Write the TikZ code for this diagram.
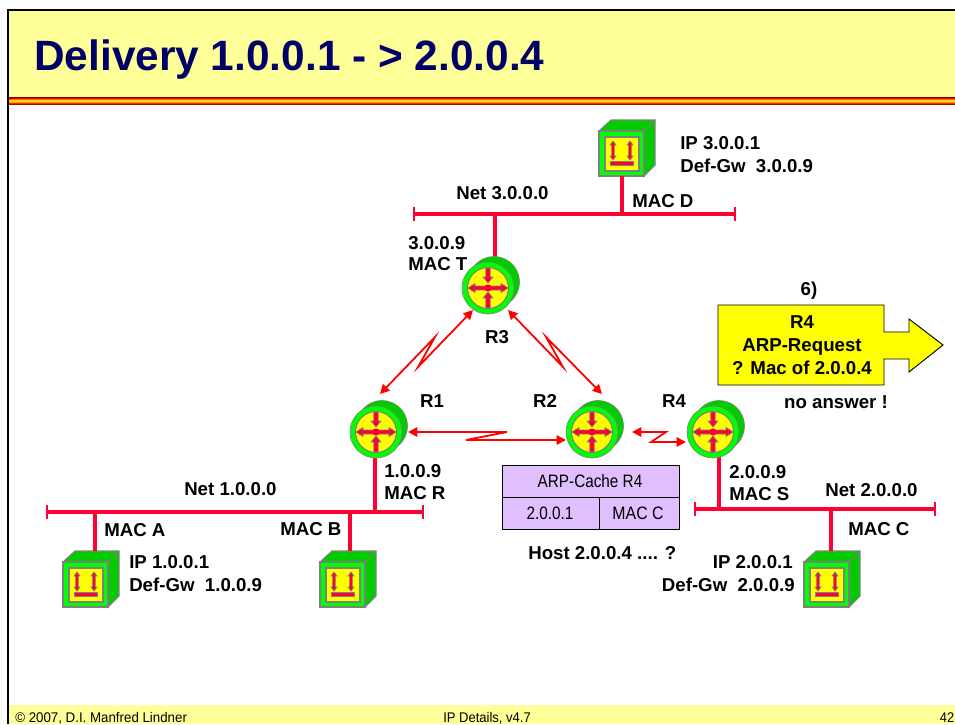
\documentclass[tikz,border=0pt]{standalone}
\usepackage{fontspec}
\setmainfont{Liberation Sans}
\usetikzlibrary{arrows.meta,calc}
\definecolor{hdr}{HTML}{FFFF99}
\definecolor{ttl}{HTML}{000066}
\definecolor{lil}{HTML}{E0BFFF}
\definecolor{grn}{HTML}{00CC00}
\definecolor{lgrn}{HTML}{00FF00}
\definecolor{yel}{HTML}{FFFF00}
\definecolor{rd}{HTML}{FF0000}
\definecolor{pk}{HTML}{FF0033}
\tikzset{
  x=0.75pt,y=-0.75pt,
  lbl/.style={inner sep=0,font=\fontsize{14}{16}\selectfont\bfseries,text=black,align=left},
  netline/.style={draw=pk,line width=2.4pt},
  drop/.style={draw=pk,line width=3.2pt},
  link/.style={draw=rd,line width=1.35pt,{Triangle[length=7pt,width=7pt]}-{Triangle[length=7pt,width=7pt]}},
  arr/.style={draw=gray,fill=pk,line width=.5pt},
  hostface/.style={draw=gray,line width=.8pt},
  cell/.style={draw=black,fill=lil,line width=.7pt},
  celltxt/.style={inner sep=0,font=\fontsize{13.5}{16}\selectfont},
}
\newcommand{\rarrow}[1]{%
  \begin{scope}[rotate=#1]
    \path[arr] (0,-2) -- (13,-2) -- (13,-4.5) -- (20,0) -- (13,4.5) -- (13,2) -- (0,2) -- cycle;
  \end{scope}}
\newcommand{\rarrowin}[2]{%
  \begin{scope}[rotate=#1]
    \path[arr] (20,-2.2) -- (#2+6,-2.2) -- (#2+6,-5) -- (#2,0) -- (#2+6,5) -- (#2+6,2.2) -- (20,2.2) -- cycle;
  \end{scope}}
\newcommand{\routerAt}[3]{%
  \begin{scope}[shift={(#2,#3)}]
    \path[draw=gray,fill=grn,line width=.5pt] (6,-6) circle[radius=25.5];
    \path[draw=gray,fill=lgrn,line width=.5pt] (0,0) circle[radius=26];
    \path[draw=gray,fill=yel,line width=.8pt] (0,0) circle[radius=20.5];
    \rarrow{0}\rarrow{180}\rarrowin{90}{5}\rarrowin{-90}{4}
    \path[fill=pk] (0,0) circle[radius=3.6];
    \coordinate (#1) at (0,0);
  \end{scope}}
\newcommand{\hostAt}[3]{%
  \begin{scope}[shift={(#2,#3)}]
    \path[hostface,fill=grn] (0,0) -- (12,-11) -- (56,-11) -- (56,34) -- (45,45) -- (45,0) -- cycle;
    \path[hostface] (45,0) -- (56,-11);
    \path[hostface,fill=lgrn] (0,0) rectangle (45,45);
    \path[hostface,fill=yel] (6,6) rectangle (40,40);
    \foreach \xx in {14,31}{
      \path[arr] (\xx-1.4,14) -- (\xx-3,14) -- (\xx,10) -- (\xx+3,14) -- (\xx+1.4,14) -- (\xx+1.4,25) -- (\xx+3,25) -- (\xx,29) -- (\xx-3,25) -- (\xx-1.4,25) -- cycle;
    }
    \path[arr] (11,30) rectangle (34,34);
    \coordinate (#1) at (23,-11);
    \coordinate (#1b) at (23,45);
  \end{scope}}
\begin{document}
\begin{tikzpicture}
\useasboundingbox (0,0) rectangle (955,724);
\path[fill=white] (0,0) rectangle (955,724);
\path[fill=hdr] (7,10) rectangle (955,97);
\path[fill=hdr] (7,705) rectangle (955,724);
\foreach \yy/\hh/\cc in {97/1/800000,98/1/E60000,99/1/FF6600,100/2/FFDD00,102/1/FF9900,103/1/FF2200,104/1/B00000}{
  \definecolor{tmpc}{HTML}{\cc}
  \path[fill=tmpc] (8,\yy) rectangle (955,\yy+\hh);
}
\draw[black,line width=1.5pt] (8,724) -- (8,10.5) -- (955,10.5);
\node[anchor=base west,inner sep=0,text=ttl,font=\fontsize{31.8}{34}\selectfont\bfseries] (title) at (34,70) {Delivery 1.0.0.1 - > 2.0.0.4};
\node[anchor=base west,inner sep=0,font=\fontsize{10.5}{11}\selectfont] (foot1) at (15,722) {\scalebox{.95}[1]{© 2007, D.I. Manfred Lindner}};
\node[anchor=base west,inner sep=0,font=\fontsize{10.5}{11}\selectfont] (foot2) at (443,722) {\scalebox{.93}[1]{IP Details, v4.7}};
\node[anchor=base east,inner sep=0,font=\fontsize{10.5}{11}\selectfont] (foot3) at (954.5,722) {\scalebox{.92}[1]{42}};
\coordinate (n3l) at (414,214); \coordinate (n3r) at (735,214);
\coordinate (n1l) at (47,512);  \coordinate (n1r) at (423,512);
\coordinate (n2l) at (695,509); \coordinate (n2r) at (935,509);
\foreach \a/\b in {n3l/n3r,n1l/n1r,n2l/n2r}{
  \draw[netline] (\a) -- (\b);
  \draw[netline,line width=1.5pt] ($(\a)+(0,-7)$) -- ($(\a)+(0,7)$);
  \draw[netline,line width=1.5pt] ($(\b)+(0,-7)$) -- ($(\b)+(0,7)$);
}
\coordinate (t3) at (495,214); \coordinate (t4) at (622,214);
\coordinate (t1) at (375,513); \coordinate (ta) at (95,512); \coordinate (tb) at (350,512);
\coordinate (t5) at (719,511); \coordinate (tc) at (831,509);
\hostAt{hd}{599}{131}
\hostAt{ha}{63}{562}
\hostAt{hb}{320}{562}
\hostAt{hc}{804}{562}
\draw[drop] (t4) -- (t4 |- hdb);
\draw[drop] (ta) -- (ta |- ha);
\draw[drop] (tb) -- (tb |- hb);
\draw[drop] (tc) -- (tc |- hc);
\coordinate (r3t) at (495,258); \coordinate (r1b) at (375,455); \coordinate (r4b) at (719,455);
\draw[drop] (r3t) -- (t3);
\draw[drop] (r1b) -- (t1);
\draw[drop] (r4b) -- (t5);
\routerAt{r3}{488}{288}
\routerAt{r1}{376}{432}
\routerAt{r2}{592}{432}
\routerAt{r4}{713}{432}
\coordinate (a1) at (473,310); \coordinate (a2) at (418,367); \coordinate (a3) at (435,337); \coordinate (a4) at (380,394);
\coordinate (b1) at (508,310); \coordinate (b2) at (563,367); \coordinate (b3) at (546,337); \coordinate (b4) at (602,394);
\coordinate (c1) at (408,432); \coordinate (c2) at (507,432); \coordinate (c3) at (466,440); \coordinate (c4) at (566,440);
\coordinate (d1) at (632,432); \coordinate (d2) at (666,432); \coordinate (d3) at (651,442); \coordinate (d4) at (686,442);
\draw[link] (a1) -- (a2) -- (a3) -- (a4);
\draw[link] (b1) -- (b2) -- (b3) -- (b4);
\draw[link] (c1) -- (c2) -- (c3) -- (c4);
\draw[link] (d1) -- (d2) -- (d3) -- (d4);
\path[draw=black,fill=yel,line width=.7pt] (718,305) -- (884,305) -- (884,332) -- (909,332) -- (909,319) -- (943,345) -- (909,372) -- (909,359) -- (884,359) -- (884,385) -- (718,385) -- cycle;
\node[lbl,align=center,anchor=center] (cb) at (802,345) {R4\\[1pt]ARP-Request\\[1pt]? Mac of 2.0.0.4};
\node[lbl] (six) at (809,291) {6)};
\node[lbl] (noans) at (836,402) {no answer !};
\path[cell] (502,465) rectangle (679,497);
\path[cell] (502,497) rectangle (599,529);
\path[cell] (599,497) rectangle (679,529);
\node[celltxt] (ac) at (590,481) {\scalebox{.85}[1]{ARP-Cache R4}};
\node[celltxt] (ac1) at (550,513) {\scalebox{.85}[1]{2.0.0.1}};
\node[celltxt] (ac2) at (638,513) {\scalebox{.88}[1]{MAC C}};
\node[lbl,anchor=west] (hq) at (528,553) {Host 2.0.0.4 .... ?};
\node[lbl,anchor=west] (l1) at (680,143) {IP 3.0.0.1};
\node[lbl,anchor=west] (l2) at (680,166) {Def-Gw\ \ 3.0.0.9};
\node[lbl,anchor=west] (l3) at (456,193) {Net 3.0.0.0};
\node[lbl,anchor=west] (l4) at (632,201) {MAC D};
\node[lbl,anchor=west] (l5) at (408,243) {3.0.0.9};
\node[lbl,anchor=west] (l6) at (408,264) {MAC T};
\node[lbl] (l7) at (497,337) {R3};
\node[lbl] (l8) at (432,401) {R1};
\node[lbl] (l9) at (545,401) {R2};
\node[lbl] (l10) at (674,401) {R4};
\node[lbl,anchor=west] (l11) at (384,471) {1.0.0.9};
\node[lbl,anchor=west] (l12) at (384,493) {MAC R};
\node[lbl,anchor=west] (l13) at (184,489) {Net 1.0.0.0};
\node[lbl,anchor=west] (l14) at (104,530) {MAC A};
\node[lbl,anchor=west] (l15) at (280,529) {MAC B};
\node[lbl,anchor=west] (l16) at (129,562) {IP 1.0.0.1};
\node[lbl,anchor=west] (l17) at (129,585) {Def-Gw\ \ 1.0.0.9};
\node[lbl,anchor=west] (l18) at (729,472) {2.0.0.9};
\node[lbl,anchor=west] (l19) at (729,494) {MAC S};
\node[lbl,anchor=west] (l20) at (825,490) {Net 2.0.0.0};
\node[lbl,anchor=west] (l21) at (848,529) {MAC C};
\node[lbl,anchor=east] (l22) at (793,562) {IP 2.0.0.1};
\node[lbl,anchor=east] (l23) at (795,585) {Def-Gw\ \ 2.0.0.9};
\end{tikzpicture}
\end{document}
